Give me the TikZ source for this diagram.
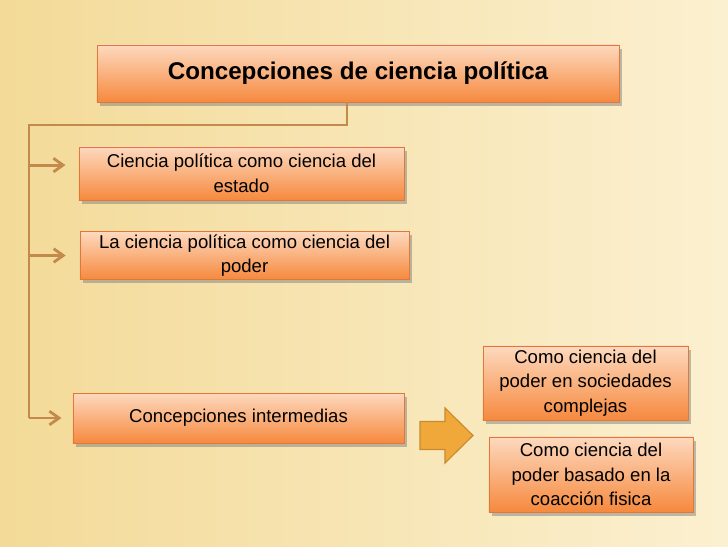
\documentclass[tikz,border=0pt]{standalone}
\usepackage{fontspec}
\setmainfont{Liberation Sans}
\usetikzlibrary{arrows.meta,shadows}

\definecolor{bgcream}{HTML}{FBF0D0}
\definecolor{bgsand}{HTML}{F3DA98}
\definecolor{boxtop}{HTML}{FDD9BE}
\definecolor{boxbot}{HTML}{F6893E}
\definecolor{boxedge}{HTML}{E0783A}
\definecolor{linebrown}{HTML}{C48A4C}
\definecolor{arrowgold}{HTML}{F0A83A}
\definecolor{arrowedge}{HTML}{C98A2E}

\begin{document}
\begin{tikzpicture}[x=0.025cm,y=-0.025cm,
    box/.style={draw=boxedge,top color=boxtop,bottom color=boxbot,align=center,
        inner sep=2pt,font=\fontsize{13.2}{17.5}\selectfont,
        drop shadow={shadow xshift=2pt,shadow yshift=-2.5pt,opacity=0.5}},
    conn/.style={draw=linebrown,line width=2pt}]
    % background
    \shade[left color=bgsand,right color=bgcream](0,0)rectangle(728,546);
    \useasboundingbox(0,0)rectangle(728,546);

    \node[box,minimum width=13.05cm,minimum height=1.425cm,font=\bfseries\fontsize{17.2}{20}\selectfont](title)at(358,73.5){Concepciones de ciencia política};
    \node[box,minimum width=8.125cm,minimum height=1.325cm](estado)at(241.5,173.5){Ciencia política como ciencia del\\estado};
    \node[box,minimum width=8.225cm,minimum height=1.125cm](poder)at(244.5,255.5){La ciencia política como ciencia del\\poder};
    \node[box,minimum width=8.275cm,minimum height=1.25cm](inter)at(238.5,418){Concepciones intermedias};
    \node[box,minimum width=5.125cm,minimum height=1.85cm](complejas)at(585.5,383){Como ciencia del\\poder en sociedades\\complejas};
    \node[box,minimum width=5.1cm,minimum height=1.875cm](coaccion)at(591,474.5){Como ciencia del\\poder basado en la\\coacción fisica};

    \coordinate(bus)at(29,125);
    \draw[conn]([xshift=-0.275cm]title.south)|-(bus)--(bus|-inter.west);
    \draw[conn,-{Straight Barb[length=2.4mm,width=3.4mm]}]([yshift=0.21cm]bus|-estado.west)--([yshift=0.21cm,xshift=-0.33cm]estado.west);
    \draw[conn,-{Straight Barb[length=2.4mm,width=3.4mm]}](bus|-poder.west)--([xshift=-0.35cm]poder.west);
    \draw[conn,-{Straight Barb[length=2.4mm,width=3.4mm]}](bus|-inter.west)--([xshift=-0.28cm]inter.west);

    \coordinate(tip)at(473,435.5);
    \draw[draw=arrowedge,fill=arrowgold,line width=0.8pt](420,421.5)--(445,421.5)--(445,408)--(tip)--(445,463)--(445,449.5)--(420,449.5)--cycle;
\end{tikzpicture}
\end{document}
